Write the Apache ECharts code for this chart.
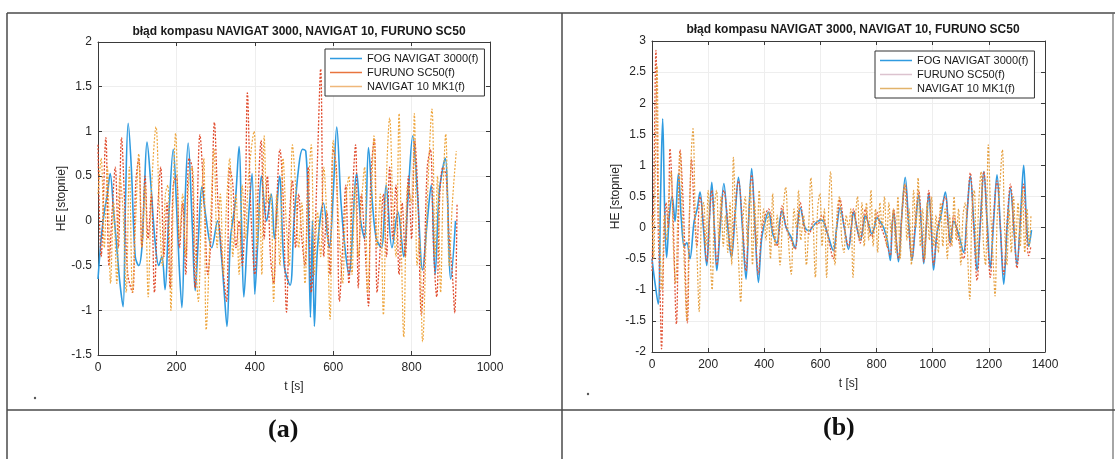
<!DOCTYPE html>
<html>
<head>
<meta charset="utf-8">
<script src="https://cdn.jsdelivr.net/npm/echarts@6/dist/echarts.min.js"></script>
<style>
html, body { margin: 0; padding: 0; background: #fff; }
#chart { width: 1115px; height: 459px; }
</style>
</head>
<body>
<div id="chart"></div>
<script>
// dane: pary [t, HE]
var titleText = 'błąd kompasu NAVIGAT 3000, NAVIGAT 10, FURUNO SC50';
var names = ['FOG NAVIGAT 3000(f)', 'FURUNO SC50(f)', 'NAVIGAT 10 MK1(f)'];

// wykres (a)
var fogA = [[0,-0.65],[8,-0.2],[16,0.1],[24,0.3],[31,0.53],[40,0.1],[48,-0.3],[56,-0.7],[64,-0.96],[70,0.2],[77,1.09],[85,0.6],[95,-0.4],[104,-0.5],[112,-0.3],[118,0.3],[125,0.88],[135,0.4],[145,-0.2],[155,-0.5],[163,-0.4],[171,-0.77],[180,0.0],[192,0.8],[200,0.2],[207,-0.5],[214,-0.97],[222,0.2],[230,0.87],[240,0.0],[248,-0.78],[256,-0.2],[265,0.38],[275,0.05],[290,-0.3],[305,0.0],[315,-0.4],[322,-0.8],[329,-1.18],[338,-0.2],[350,0.2],[360,0.83],[366,0.0],[372,-0.85],[382,-0.1],[393,0.53],[400,-0.82],[408,-0.2],[417,0.5],[430,0.0],[442,0.3],[450,-0.2],[463,0.5],[475,-0.5],[490,-0.72],[500,0.0],[512,0.6],[522,0.8],[530,0.78],[536,0.2],[542,-1.08],[547,0.0],[552,-1.18],[560,-0.3],[575,0.2],[590,-0.3],[600,0.3],[609,1.05],[620,0.2],[630,-0.3],[640,-0.6],[660,0.53],[670,0.0],[680,-0.2],[690,0.82],[700,0.2],[710,-0.2],[723,-0.3],[735,0.4],[750,-0.3],[765,0.1],[780,-0.4],[790,0.2],[803,0.95],[815,0.3],[828,-0.55],[840,0.0],[850,0.4],[860,-0.6],[870,0.3],[880,0.6],[886,0.7],[900,-0.65],[912,0.0]];
var furunoA = [[0,0.85],[8,-0.4],[20,0.93],[28,-0.5],[36,0.1],[44,0.6],[52,-0.3],[60,0.93],[68,0.2],[76,-0.6],[88,-0.8],[96,0.4],[104,0.7],[112,-0.3],[120,0.5],[128,-0.2],[136,0.3],[144,-0.8],[152,0.1],[160,0.6],[168,-0.4],[176,0.2],[184,-0.75],[192,0.4],[200,0.5],[208,-0.3],[216,0.2],[224,-0.6],[232,0.7],[240,0.6],[248,-0.75],[260,0.96],[272,0.1],[280,-0.6],[288,-0.2],[297,1.1],[306,0.2],[318,-0.5],[328,-0.9],[336,0.6],[344,0.4],[352,-0.3],[360,0.0],[368,-0.5],[376,0.3],[381,1.43],[390,0.1],[400,-0.6],[408,0.3],[416,0.9],[424,-0.2],[432,0.5],[440,-0.4],[448,-0.7],[456,0.2],[464,0.8],[472,0.3],[481,-1.02],[488,0.0],[496,0.45],[504,-0.3],[512,0.3],[520,-0.2],[528,-0.5],[536,0.6],[544,-0.8],[552,-0.3],[560,0.7],[568,1.7],[576,-0.4],[584,0.1],[592,-0.6],[600,0.8],[608,0.6],[616,-0.9],[624,-0.3],[632,0.4],[640,-0.7],[648,0.2],[657,0.85],[664,-0.75],[672,0.3],[680,-0.2],[690,-0.95],[696,0.5],[705,0.92],[712,-0.8],[720,-0.3],[728,0.3],[736,-0.4],[744,0.6],[752,-0.2],[760,0.4],[768,-0.6],[776,0.2],[784,-0.4],[792,0.5],[800,-0.2],[808,0.9],[816,0.3],[825,-1.05],[832,-0.5],[840,0.6],[848,0.8],[856,-0.3],[864,-0.85],[872,0.3],[880,0.6],[888,0.5],[896,-0.2],[904,-0.6],[910,-1.03],[916,0.2]];
var navA = [[0,0.3],[8,0.7],[16,-0.3],[24,0.6],[32,-0.7],[40,0.2],[48,-0.7],[56,0.5],[64,0.1],[72,-0.8],[80,0.6],[88,-0.8],[96,0.0],[104,0.75],[112,-0.3],[120,0.4],[128,-0.85],[136,0.3],[148,1.05],[156,0.2],[164,-0.5],[172,0.3],[178,0.4],[186,-1.0],[192,0.3],[198,0.98],[208,-0.2],[216,0.3],[224,-0.4],[232,0.5],[240,0.6],[248,-0.3],[256,-0.9],[264,0.2],[270,0.7],[276,-1.22],[288,0.1],[296,0.8],[304,-0.3],[312,0.3],[320,-0.6],[328,0.2],[336,0.7],[344,-0.4],[352,0.3],[360,-0.6],[368,0.4],[376,-0.2],[384,0.5],[398,1.0],[406,-0.3],[412,0.2],[418,-0.6],[424,0.95],[432,0.2],[440,0.3],[448,-0.9],[456,0.3],[464,-0.5],[472,0.7],[480,0.0],[488,-0.5],[496,0.85],[504,0.4],[512,-0.3],[520,0.2],[528,-0.7],[536,0.3],[544,0.85],[552,-0.6],[560,0.1],[568,-0.4],[576,0.6],[584,0.0],[592,-1.1],[600,0.9],[608,0.5],[616,-0.2],[624,-0.7],[632,0.2],[640,0.5],[648,-0.6],[656,0.4],[664,-0.4],[672,0.2],[680,0.6],[688,-0.8],[696,0.0],[704,0.95],[712,-0.3],[720,0.3],[728,-1.05],[736,0.5],[744,1.15],[752,0.2],[760,-0.4],[768,1.2],[774,-0.3],[780,-1.3],[790,0.4],[800,0.2],[807,1.2],[814,-0.5],[820,-0.2],[828,-1.35],[840,0.2],[852,1.25],[860,-0.4],[866,0.5],[874,-0.8],[880,0.3],[887,0.97],[896,-0.5],[904,0.2],[914,0.78]];

// wykres (b)
var fogB = [[0,-0.5],[8,-0.8],[22,-1.23],[30,0.4],[38,1.75],[45,0.3],[52,-0.48],[62,0.2],[72,0.5],[82,0.1],[94,0.87],[105,0.1],[115,-0.3],[124,-0.24],[135,-0.5],[150,0.1],[161,0.3],[171,0.57],[183,0.0],[195,-0.61],[204,0.1],[213,0.73],[222,0.0],[231,-0.69],[243,0.0],[256,0.71],[270,0.0],[283,-0.48],[296,0.2],[308,0.81],[322,0.0],[335,-0.83],[345,0.2],[355,0.95],[367,0.0],[379,-0.88],[390,-0.2],[403,0.1],[415,0.25],[430,-0.1],[445,-0.25],[455,0.1],[463,0.27],[478,0.0],[495,-0.15],[510,-0.33],[520,0.1],[528,0.32],[545,0.0],[560,-0.05],[575,0.03],[590,0.1],[605,0.12],[625,-0.1],[646,-0.37],[658,0.0],[670,0.32],[685,0.0],[700,-0.35],[710,0.0],[718,0.25],[730,0.0],[742,-0.2],[752,0.0],[760,0.2],[772,0.05],[783,-0.1],[792,0.0],[801,0.16],[812,0.1],[825,0.0],[838,-0.2],[849,-0.53],[855,0.0],[861,0.25],[870,-0.2],[878,-0.55],[890,0.2],[902,0.81],[914,0.1],[926,-0.53],[938,0.0],[950,0.52],[960,0.0],[968,-0.58],[977,0.0],[986,0.55],[995,0.0],[1003,-0.68],[1015,-0.1],[1030,0.2],[1045,0.57],[1055,0.1],[1063,-0.24],[1075,0.1],[1092,-0.1],[1110,-0.4],[1122,0.2],[1134,0.83],[1146,0.1],[1158,-0.69],[1170,0.1],[1182,0.9],[1194,0.1],[1205,-0.65],[1217,0.1],[1229,0.85],[1241,0.0],[1253,-0.91],[1265,0.0],[1277,0.63],[1289,0.0],[1300,-0.6],[1312,0.1],[1324,1.0],[1333,0.2],[1342,-0.3],[1352,-0.04]];
var furunoB = [[0,-0.7],[6,0.5],[14,2.85],[22,0.0],[28,-0.9],[34,-1.95],[42,-0.3],[50,0.4],[58,0.0],[64,1.27],[75,0.2],[87,-1.55],[94,0.0],[100,1.25],[112,0.3],[126,-1.53],[134,0.3],[141,1.1],[150,0.3],[160,-0.3],[171,0.5],[183,0.1],[195,-0.55],[204,0.1],[213,0.6],[222,0.0],[231,-0.6],[243,0.1],[256,0.6],[270,0.1],[283,-0.45],[296,0.3],[308,0.75],[322,0.1],[335,-0.7],[345,0.2],[355,0.85],[367,0.0],[379,-0.75],[390,-0.1],[403,0.2],[415,0.3],[430,0.0],[445,-0.3],[455,0.0],[463,0.35],[478,0.0],[495,-0.2],[510,-0.35],[520,0.1],[528,0.4],[545,-0.05],[560,-0.1],[575,0.1],[590,0.05],[605,0.2],[625,-0.1],[646,-0.5],[658,0.0],[670,0.45],[685,0.0],[700,-0.3],[710,0.0],[718,0.3],[730,0.0],[742,-0.25],[752,0.1],[760,0.3],[772,0.0],[783,-0.15],[792,0.0],[801,0.25],[812,0.05],[825,-0.1],[838,-0.3],[849,-0.45],[855,0.0],[861,0.3],[870,-0.2],[878,-0.5],[890,0.2],[902,0.7],[914,0.0],[926,-0.5],[938,0.1],[950,0.6],[960,0.0],[968,-0.55],[977,0.0],[986,0.6],[995,0.0],[1003,-0.6],[1015,-0.1],[1030,0.3],[1045,0.5],[1055,0.0],[1063,-0.3],[1075,0.2],[1092,-0.2],[1110,-0.5],[1122,0.2],[1134,0.88],[1146,0.0],[1158,-0.85],[1170,0.1],[1182,0.9],[1194,0.0],[1205,-0.8],[1217,0.2],[1229,0.75],[1241,0.0],[1253,-0.75],[1265,0.1],[1277,0.7],[1289,0.0],[1300,-0.65],[1312,0.1],[1324,0.7],[1333,0.0],[1342,-0.45],[1350,-0.3]];
var navB = [[0,0.2],[6,-0.5],[12,1.0],[18,2.6],[24,0.3],[30,-0.5],[36,-1.0],[44,0.2],[52,-0.2],[60,0.5],[68,0.9],[76,-0.3],[84,-0.9],[92,0.2],[100,1.2],[108,0.2],[116,-0.7],[124,-1.5],[132,0.0],[140,1.2],[146,1.59],[154,0.2],[160,-0.4],[168,-1.35],[176,0.2],[184,0.4],[192,-0.3],[200,0.6],[208,-0.5],[214,-1.0],[222,0.3],[230,0.6],[238,-0.2],[246,0.5],[254,-0.3],[262,0.2],[270,-0.4],[278,0.4],[284,-0.6],[290,1.13],[298,0.2],[306,-0.3],[316,-1.2],[324,0.1],[332,0.5],[340,-0.3],[350,0.7],[358,-0.6],[366,0.4],[374,-0.3],[382,0.6],[390,0.0],[398,0.3],[406,-0.2],[414,0.25],[422,-0.5],[430,0.55],[438,-0.3],[446,0.2],[456,-0.6],[466,0.2],[476,0.65],[486,-0.2],[496,-0.75],[506,0.3],[514,0.0],[522,0.6],[530,-0.2],[540,0.2],[550,-0.6],[558,0.0],[566,0.8],[574,0.1],[582,-0.8],[590,0.3],[598,0.55],[606,-0.3],[614,0.3],[622,-0.8],[630,0.4],[636,0.9],[644,0.0],[652,-0.6],[660,0.3],[668,0.5],[676,-0.2],[684,-0.4],[692,0.2],[700,0.0],[708,0.3],[716,-0.8],[724,0.1],[732,0.5],[740,-0.2],[748,0.4],[756,-0.3],[764,0.4],[772,-0.2],[780,0.6],[788,-0.3],[796,0.3],[804,-0.4],[812,0.4],[820,0.0],[828,0.5],[836,-0.3],[844,0.4],[852,-0.1],[860,0.3],[868,-0.4],[876,0.5],[884,-0.5],[892,0.4],[900,0.7],[908,-0.2],[916,0.3],[924,-0.6],[932,0.6],[940,0.0],[948,0.8],[956,-0.3],[964,0.3],[972,-0.5],[980,0.4],[988,-0.2],[996,0.5],[1004,-0.3],[1012,0.2],[1020,-0.4],[1028,0.4],[1036,-0.3],[1044,0.3],[1052,-0.5],[1060,0.2],[1068,-0.3],[1076,0.5],[1084,-0.2],[1092,0.3],[1100,-0.6],[1108,0.2],[1116,0.4],[1124,-0.4],[1132,-1.15],[1140,0.3],[1148,0.6],[1156,-0.5],[1164,0.4],[1172,0.9],[1180,-0.2],[1188,-0.6],[1198,1.33],[1206,0.3],[1214,-0.4],[1222,-1.1],[1230,0.2],[1238,0.6],[1248,1.25],[1256,0.0],[1264,-0.6],[1272,0.3],[1280,-0.4],[1288,0.5],[1296,-0.2],[1304,0.4],[1312,-0.3],[1320,0.6],[1328,-0.4],[1336,0.3],[1344,-0.3],[1350,0.2]];

var myChart = echarts.init(document.getElementById('chart'));
var font = '"Liberation Sans", Arial, sans-serif';
var gridColor = '#eeeeee';
var axisColor = '#3a3a3a';
var plain = function (v) { return String(v); };

function xAxes(gridIndex, max, top) {
    var base = {
        type: 'value', gridIndex: gridIndex, min: 0, max: max, interval: 200,
        axisLine: { show: true, onZero: false, lineStyle: { color: axisColor, width: 1 } },
        axisTick: { show: true, inside: true, length: 4, lineStyle: { color: axisColor } },
        axisLabel: { show: !top, color: '#262626', fontSize: 12, fontFamily: font, margin: 7, formatter: plain },
        splitLine: { show: !top, lineStyle: { color: gridColor } },
        position: top ? 'top' : 'bottom'
    };
    if (!top) {
        base.name = 't [s]';
        base.nameLocation = 'middle';
        base.nameGap = 26;
        base.nameTextStyle = { color: '#262626', fontSize: 12, fontFamily: font };
    }
    return base;
}
function yAxes(gridIndex, min, max, right, gap) {
    var base = {
        type: 'value', gridIndex: gridIndex, min: min, max: max, interval: 0.5,
        axisLine: { show: true, onZero: false, lineStyle: { color: axisColor, width: 1 } },
        axisTick: { show: true, inside: true, length: 4, lineStyle: { color: axisColor } },
        axisLabel: { show: !right, color: '#262626', fontSize: 12, fontFamily: font, margin: 6, formatter: plain },
        splitLine: { show: !right, lineStyle: { color: gridColor } },
        position: right ? 'right' : 'left'
    };
    if (!right) {
        base.name = 'HE [stopnie]';
        base.nameLocation = 'middle';
        base.nameGap = gap;
        base.nameTextStyle = { color: '#262626', fontSize: 12, fontFamily: font };
    }
    return base;
}
function line(name, data, xi, yi, color, width, dash) {
    return {
        name: name, type: 'line', xAxisIndex: xi, yAxisIndex: yi,
        data: data, symbol: 'none', smooth: 0.35, silent: true, animation: false,
        lineStyle: { color: color, width: width, type: dash ? [2, 1.6] : 'solid' },
        itemStyle: { color: color }
    };
}
function legend(left, top, colors) {
    return {
        orient: 'vertical', left: left, top: top,
        padding: [3, 6, 3, 5], itemGap: 1, itemWidth: 32, itemHeight: 1.5,
        icon: 'rect',
        borderColor: '#333', borderWidth: 1, backgroundColor: '#fff',
        selectedMode: false,
        textStyle: { color: '#1a1a1a', fontSize: 11, fontFamily: font, lineHeight: 13 },
        data: names.map(function (n, i) {
            return { name: n, itemStyle: { color: colors[i] } };
        })
    };
}

var option = {
    backgroundColor: '#fff',
    animation: false,
    title: [
        { text: titleText, left: 294, top: 21, textAlign: 'center', textStyle: { fontSize: 12, fontWeight: 'bold', color: '#1a1a1a', fontFamily: font } },
        { text: titleText, left: 848, top: 19, textAlign: 'center', textStyle: { fontSize: 12, fontWeight: 'bold', color: '#1a1a1a', fontFamily: font } }
    ],
    legend: [
        legend(325, 49, ['#2f9be0', '#e8743e', '#efb77a']),
        legend(875, 51, ['#2f9be0', '#dcc3cf', '#e2b36a'])
    ],
    grid: [
        { left: 98, top: 42, width: 392, height: 313, outerBoundsMode: 'none', show: false },
        { left: 652, top: 41, width: 393, height: 311, outerBoundsMode: 'none', show: false }
    ],
    xAxis: [xAxes(0, 1000, false), xAxes(0, 1000, true), xAxes(1, 1400, false), xAxes(1, 1400, true)],
    yAxis: [yAxes(0, -1.5, 2, false, 29), yAxes(0, -1.5, 2, true), yAxes(1, -2, 3, false, 29), yAxes(1, -2, 3, true)],
    series: [
        line(names[0], fogA, 0, 0, '#2f9be0', 1.6, false),
        line(names[1], furunoA, 0, 0, '#e0492a', 1.3, true),
        line(names[2], navA, 0, 0, '#eea53c', 1.2, true),
        line(names[0], fogB, 2, 2, '#2f9be0', 1.6, false),
        line(names[1], furunoB, 2, 2, '#e2573a', 1.3, true),
        line(names[2], navB, 2, 2, '#e6a040', 1.2, true)
    ],
    graphic: [
        { type: 'line', shape: { x1: 7, y1: 13, x2: 1115, y2: 13 }, style: { stroke: '#4a4a4a', lineWidth: 1.5 } },
        { type: 'line', shape: { x1: 7, y1: 13, x2: 7, y2: 459 }, style: { stroke: '#4a4a4a', lineWidth: 1.5 } },
        { type: 'line', shape: { x1: 562, y1: 13, x2: 562, y2: 459 }, style: { stroke: '#4a4a4a', lineWidth: 1.5 } },
        { type: 'line', shape: { x1: 1113, y1: 13, x2: 1113, y2: 459 }, style: { stroke: '#6a6a6a', lineWidth: 1.2 } },
        { type: 'line', shape: { x1: 7, y1: 410, x2: 1115, y2: 410 }, style: { stroke: '#4a4a4a', lineWidth: 1.5 } },
        { type: 'text', left: 268, top: 417, style: { text: '(a)', font: 'bold 26px "Liberation Serif", "Times New Roman", serif', fill: '#111' } },
        { type: 'text', left: 823, top: 415, style: { text: '(b)', font: 'bold 26px "Liberation Serif", "Times New Roman", serif', fill: '#111' } },
        { type: 'circle', shape: { cx: 35, cy: 398, r: 1.2 }, style: { fill: '#555' } },
        { type: 'circle', shape: { cx: 588, cy: 394, r: 1.2 }, style: { fill: '#555' } }
    ]
};

myChart.setOption(option);
window.addEventListener('resize', function () {
    myChart.resize();
});
</script>
</body>
</html>
